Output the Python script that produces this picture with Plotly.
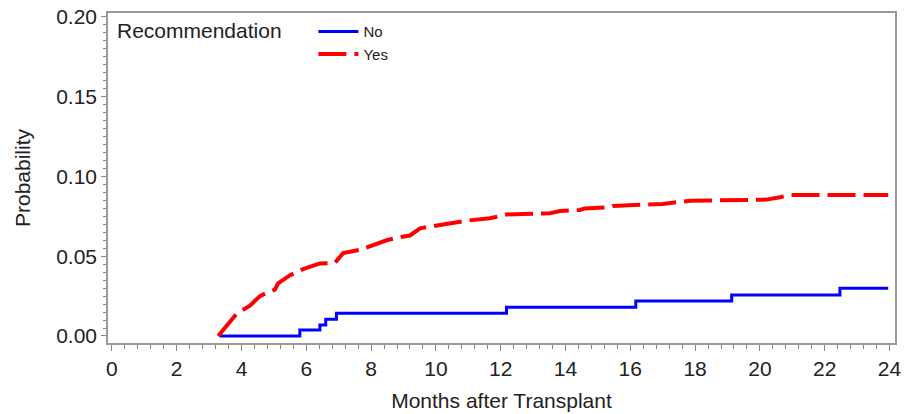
import plotly.graph_objects as go

# Cumulative incidence, "Yes" recommendation group (red dashed)
yes_months = [3.28, 3.54, 3.85, 4.26, 4.57, 4.77, 5.03, 5.13, 5.49, 5.90, 6.42, 6.88,
              7.14, 7.65, 8.17, 8.48, 8.89, 9.20, 9.51, 10.12, 10.95, 11.67, 12.18,
              12.70, 13.52, 13.83, 14.44, 14.60, 15.37, 15.47, 16.09, 17.00, 17.84,
              18.77, 20.20, 20.62, 20.93, 23.96]
yes_prob = [0.000, 0.006, 0.014, 0.019, 0.025, 0.027, 0.029, 0.033, 0.038, 0.042, 0.0455, 0.0458,
            0.052, 0.054, 0.058, 0.060, 0.062, 0.063, 0.0675, 0.0696, 0.0723, 0.0738, 0.0762,
            0.0765, 0.077, 0.0784, 0.079, 0.080, 0.0807, 0.0815, 0.0821, 0.0828, 0.0848,
            0.0853, 0.0855, 0.087, 0.0884, 0.0884]

# Cumulative incidence, "No" recommendation group (blue solid, step)
no_months = [3.33, 5.80, 6.42, 6.60, 6.93, 12.18, 16.17, 19.13, 22.47, 23.96]
no_prob = [0.000, 0.0038, 0.0069, 0.0105, 0.0142, 0.018, 0.0219, 0.0257, 0.0299, 0.0299]

x_ticks = list(range(0, 25, 2))
y_ticks = [0.00, 0.05, 0.10, 0.15, 0.20]
y_tick_labels = ["0.00", "0.05", "0.10", "0.15", "0.20"]

FONT = "Liberation Sans, Arial, sans-serif"
TXT = "#222222"

fig = go.Figure()
fig.add_trace(go.Scatter(x=no_months, y=no_prob, mode="lines", name="No",
                         line=dict(color="#0000ff", width=3, shape="hv")))
fig.add_trace(go.Scatter(x=yes_months, y=yes_prob, mode="lines", name="Yes",
                         line=dict(color="#ff0000", width=4, shape="linear", dash="28px,8px")))

fig.update_layout(
    width=907, height=414,
    margin=dict(l=108, r=12, t=13, b=71, autoexpand=False),
    paper_bgcolor="white", plot_bgcolor="white",
    font=dict(family=FONT, color=TXT),
    showlegend=True,
    legend=dict(x=0.261, y=0.993, xanchor="left", yanchor="top",
                font=dict(size=15, family=FONT, color=TXT),
                bgcolor="rgba(0,0,0,0)", tracegroupgap=0, itemwidth=40,
                traceorder="normal"),
    annotations=[dict(text="Recommendation", x=0.009, y=0.988, xref="paper", yref="paper",
                      xanchor="left", yanchor="top", showarrow=False,
                      font=dict(size=21, family=FONT, color=TXT))],
)
fig.update_xaxes(
    range=[-0.12, 24.17], tickvals=x_ticks, ticktext=[str(v) for v in x_ticks],
    ticks="outside", ticklen=6, tickcolor="#888888", tickwidth=1,
    minor=dict(dtick=0.4, tick0=0, ticks="outside", ticklen=4, tickcolor="#888888", showgrid=False),
    showline=True, linecolor="#999999", linewidth=1.5, mirror=True,
    showgrid=False, zeroline=False, automargin=False, ticklabeloverflow="allow",
    tickfont=dict(size=21, family=FONT, color=TXT),
    title=dict(text="Months after Transplant", font=dict(size=21, family=FONT, color=TXT), standoff=14),
)
fig.update_yaxes(
    range=[-0.0044, 0.2025], tickvals=y_ticks, ticktext=y_tick_labels,
    ticks="outside", ticklen=5, tickcolor="#888888", tickwidth=1,
    minor=dict(dtick=0.005, tick0=0, ticks="outside", ticklen=3, tickcolor="#888888", showgrid=False),
    showline=True, linecolor="#999999", linewidth=1.5, mirror=True,
    showgrid=False, zeroline=False, automargin=False, ticklabeloverflow="allow",
    tickfont=dict(size=21, family=FONT, color=TXT),
    title=dict(text="Probability", font=dict(size=21, family=FONT, color=TXT), standoff=20),
)

fig.write_html("out.html", config={"displayModeBar": False},
               post_script="document.body.style.margin='0';")
